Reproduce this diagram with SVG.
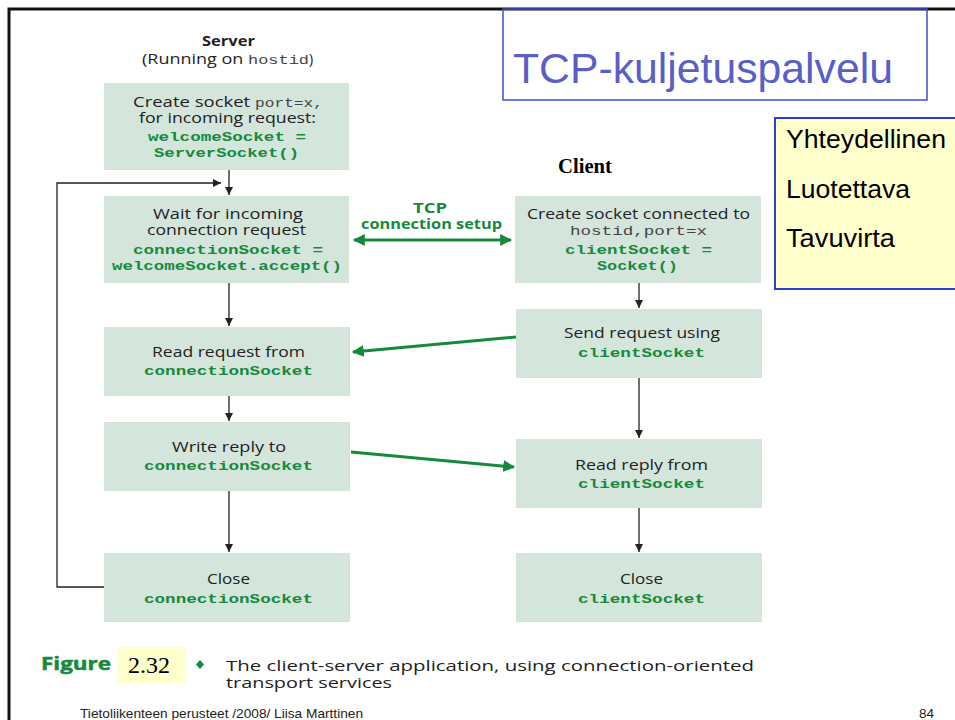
<svg xmlns="http://www.w3.org/2000/svg" width="955" height="720" viewBox="0 0 955 720">
<style>
.box{fill:#d4e5dc}
.t{font-family:"Open Sans","Noto Sans","Liberation Sans",sans-serif;font-size:14px;fill:#222}
.b{font-family:"Open Sans","Noto Sans","Liberation Sans",sans-serif;font-weight:bold;fill:#222}
.code{font-family:"Liberation Mono","Courier New",monospace;font-weight:bold;font-size:13.5px;fill:#168a3c}
.mono{font-family:"Liberation Mono","Courier New",monospace;font-size:13.5px;fill:#444}
.g{font-family:"Open Sans","Noto Sans","Liberation Sans",sans-serif;font-weight:bold;font-size:13.5px;fill:#168a3c}
.ln{stroke:#222;stroke-width:1.3;fill:none}
.gl{stroke:#168a3c;stroke-width:3;fill:none}
</style>
<defs>
<marker id="ah" viewBox="0 0 10 10" refX="10" refY="5" markerWidth="8" markerHeight="8" markerUnits="userSpaceOnUse" orient="auto"><path d="M0,0 L10,5 L0,10 Z" fill="#222"/></marker>
<marker id="gh" viewBox="0 0 10 10" refX="9" refY="5" markerWidth="4" markerHeight="4" orient="auto"><path d="M0,0 L10,5 L0,10 Z" fill="#168a3c"/></marker>
<marker id="ghs" viewBox="0 0 10 10" refX="1" refY="5" markerWidth="4" markerHeight="4" orient="auto"><path d="M10,0 L0,5 L10,10 Z" fill="#168a3c"/></marker>
</defs>
<rect width="955" height="720" fill="#fff"/>
<!-- slide frame -->
<path d="M9,720 L9,9 L955,9" stroke="#111" stroke-width="3" fill="none"/>
<!-- title -->
<g id="title">
<rect x="503" y="9" width="424" height="91" fill="none" stroke="#3a52d8" stroke-width="1.5"/>
<text x="513" y="83" font-family="Liberation Sans, Arial, sans-serif" font-size="42" fill="#5a5fc6" textLength="380" lengthAdjust="spacingAndGlyphs">TCP-kuljetuspalvelu</text>
</g>
<g id="properties">
<rect x="775" y="118" width="190" height="171" fill="#ffffcc" stroke="#2a40d0" stroke-width="2"/>
<text font-family="Liberation Sans, Arial, sans-serif" font-size="26" fill="#000">
<tspan x="786" y="148" textLength="160" lengthAdjust="spacingAndGlyphs">Yhteydellinen</tspan>
<tspan x="786" y="198" textLength="124" lengthAdjust="spacingAndGlyphs">Luotettava</tspan>
<tspan x="786" y="247" textLength="109" lengthAdjust="spacingAndGlyphs">Tavuvirta</tspan>
</text>
</g>
<!-- headers -->
<g id="server-label">
<text class="b" x="202" y="46" font-size="13.5" textLength="53" lengthAdjust="spacingAndGlyphs">Server</text>
<text x="142" y="64" class="t" font-size="13.5"><tspan textLength="106" lengthAdjust="spacingAndGlyphs">(Running on </tspan><tspan class="mono" font-size="14" textLength="61" lengthAdjust="spacingAndGlyphs">hostid</tspan><tspan>)</tspan></text>
</g>
<g id="client-label">
<text x="558" y="173" font-family="Liberation Serif, 'Times New Roman', serif" font-weight="bold" font-size="20" fill="#000" textLength="54" lengthAdjust="spacingAndGlyphs">Client</text>
</g>
<!-- server nodes -->
<g id="s-create">
<rect class="box" x="104" y="83" width="245" height="87"/>
<text class="t" x="133" y="107"><tspan textLength="122" lengthAdjust="spacingAndGlyphs">Create  socket </tspan><tspan class="mono" textLength="68" lengthAdjust="spacingAndGlyphs">port=x,</tspan></text>
<text class="t" x="139" y="123" textLength="177" lengthAdjust="spacingAndGlyphs">for incoming request:</text>
<text class="code" x="148" y="141" textLength="158" lengthAdjust="spacingAndGlyphs">welcomeSocket =</text>
<text class="code" x="154" y="157" textLength="145" lengthAdjust="spacingAndGlyphs">ServerSocket()</text>
</g>
<g id="s-wait">
<rect class="box" x="104" y="196" width="245" height="87"/>
<text class="t" x="153" y="219" textLength="150" lengthAdjust="spacingAndGlyphs">Wait for incoming</text>
<text class="t" x="147" y="235" textLength="159" lengthAdjust="spacingAndGlyphs">connection request</text>
<text class="code" x="133" y="254" textLength="190" lengthAdjust="spacingAndGlyphs">connectionSocket =</text>
<text class="code" x="112" y="270" textLength="230" lengthAdjust="spacingAndGlyphs">welcomeSocket.accept()</text>
</g>
<g id="s-read">
<rect class="box" x="104" y="327" width="246" height="69"/>
<text class="t" x="152" y="357" textLength="153" lengthAdjust="spacingAndGlyphs">Read request from</text>
<text class="code" x="144" y="375" textLength="169" lengthAdjust="spacingAndGlyphs">connectionSocket</text>
</g>
<g id="s-write">
<rect class="box" x="104" y="422" width="246" height="69"/>
<text class="t" x="172" y="452" textLength="114" lengthAdjust="spacingAndGlyphs">Write reply to</text>
<text class="code" x="144" y="470" textLength="169" lengthAdjust="spacingAndGlyphs">connectionSocket</text>
</g>
<g id="s-close">
<rect class="box" x="104" y="553" width="246" height="69"/>
<text class="t" x="207" y="584" textLength="43" lengthAdjust="spacingAndGlyphs">Close</text>
<text class="code" x="144" y="603" textLength="169" lengthAdjust="spacingAndGlyphs">connectionSocket</text>
</g>
<!-- client nodes -->
<g id="c-create">
<rect class="box" x="515" y="196" width="246" height="87"/>
<text class="t" x="527" y="219" textLength="223" lengthAdjust="spacingAndGlyphs">Create socket connected to</text>
<text class="mono" x="570" y="235" textLength="137" lengthAdjust="spacingAndGlyphs">hostid,port=x</text>
<text class="code" x="565" y="254" textLength="147" lengthAdjust="spacingAndGlyphs">clientSocket =</text>
<text class="code" x="597" y="270" textLength="81" lengthAdjust="spacingAndGlyphs">Socket()</text>
</g>
<g id="c-send">
<rect class="box" x="516" y="309" width="246" height="69"/>
<text class="t" x="564" y="338" textLength="156" lengthAdjust="spacingAndGlyphs">Send request using</text>
<text class="code" x="578" y="357" textLength="127" lengthAdjust="spacingAndGlyphs">clientSocket</text>
</g>
<g id="c-read">
<rect class="box" x="516" y="439" width="246" height="69"/>
<text class="t" x="575" y="470" textLength="133" lengthAdjust="spacingAndGlyphs">Read reply from</text>
<text class="code" x="578" y="488" textLength="127" lengthAdjust="spacingAndGlyphs">clientSocket</text>
</g>
<g id="c-close">
<rect class="box" x="516" y="553" width="246" height="69"/>
<text class="t" x="620" y="584" textLength="43" lengthAdjust="spacingAndGlyphs">Close</text>
<text class="code" x="578" y="603" textLength="127" lengthAdjust="spacingAndGlyphs">clientSocket</text>
</g>
<!-- connectors -->
<g id="connectors">
<line class="ln" x1="229" y1="170" x2="229" y2="195" marker-end="url(#ah)"/>
<polyline class="ln" points="104,587 57,587 57,183 221,183" marker-end="url(#ah)"/>
<line class="ln" x1="229" y1="283" x2="229" y2="326" marker-end="url(#ah)"/>
<line class="ln" x1="229" y1="396" x2="229" y2="421" marker-end="url(#ah)"/>
<line class="ln" x1="229" y1="491" x2="229" y2="552" marker-end="url(#ah)"/>
<line class="ln" x1="639" y1="283" x2="639" y2="308" marker-end="url(#ah)"/>
<line class="ln" x1="639" y1="378" x2="639" y2="438" marker-end="url(#ah)"/>
<line class="ln" x1="639" y1="508" x2="639" y2="552" marker-end="url(#ah)"/>
<line class="gl" x1="354" y1="240" x2="511" y2="240" marker-start="url(#ghs)" marker-end="url(#gh)"/>
<line class="gl" x1="516" y1="337" x2="353" y2="352" marker-end="url(#gh)"/>
<line class="gl" x1="351" y1="452" x2="514" y2="467" marker-end="url(#gh)"/>
<text class="g" x="413" y="213" textLength="34" lengthAdjust="spacingAndGlyphs">TCP</text>
<text class="g" x="361" y="229" textLength="141" lengthAdjust="spacingAndGlyphs">connection setup</text>
</g>
<!-- caption -->
<g id="caption">
<text class="b" x="41" y="670" font-size="18" style="fill:#168a3c" stroke="#168a3c" stroke-width="0.5" textLength="70" lengthAdjust="spacingAndGlyphs">Figure</text>
<rect x="117" y="647" width="69" height="36" fill="#ffffcc"/>
<text x="128" y="673" font-family="Liberation Serif, 'Times New Roman', serif" font-size="23" fill="#000" textLength="42" lengthAdjust="spacingAndGlyphs">2.32</text>
<path d="M200,660 L204,664.5 L200,669 L196,664.5 Z" fill="#168a3c"/>
<text class="t" font-size="18" x="226" y="671" textLength="528" lengthAdjust="spacingAndGlyphs">The client-server application, using connection-oriented</text>
<text class="t" font-size="18" x="226" y="688" textLength="166" lengthAdjust="spacingAndGlyphs">transport services</text>
</g>
<g id="footer">
<text x="80" y="718" font-family="Liberation Sans, Arial, sans-serif" font-size="13.5" fill="#222" textLength="283" lengthAdjust="spacingAndGlyphs">Tietoliikenteen perusteet /2008/  Liisa Marttinen</text>
<text x="919" y="718" font-family="Liberation Sans, Arial, sans-serif" font-size="13.5" fill="#222">84</text>
</g>
</svg>
